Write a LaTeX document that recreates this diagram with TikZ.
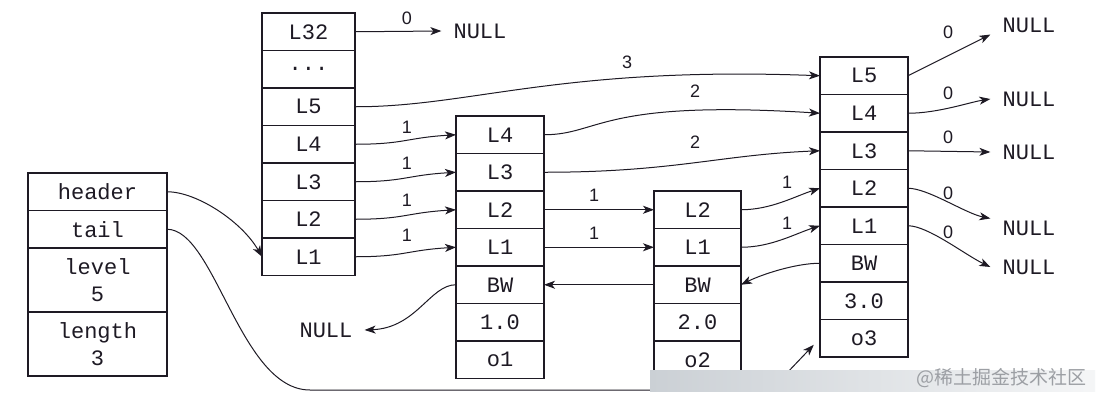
\documentclass[tikz,border=0pt]{standalone}
\usepackage{fontspec}
\setmonofont{Liberation Mono}
\newfontfamily\numfont{Liberation Sans}
\newfontfamily\cjkfont{Noto Sans CJK SC}
\usetikzlibrary{arrows.meta,positioning}
\definecolor{Ink}{HTML}{1E1A24}
\definecolor{Band}{HTML}{CBD0D5}
\definecolor{Mark}{HTML}{9C9FA4}

\begin{document}
\begin{tikzpicture}[x=1pt,y=-1pt,
slot/.style={draw=Ink,line width=1.3pt,outer sep=0pt,inner sep=0pt,minimum height=37.5pt,align=center,text=Ink,font=\ttfamily\fontsize{22}{27}\selectfont},
lcol/.style={slot,minimum width=139pt},
hcol/.style={slot,minimum width=93pt},
acol/.style={slot,minimum width=88pt},
bcol/.style={slot,minimum width=87pt},
ccol/.style={slot,minimum width=88pt},
nulltxt/.style={inner xsep=12pt,inner ysep=2pt,text=Ink,font=\ttfamily\fontsize{22}{27}\selectfont},
lab/.style={inner sep=0pt,text=Ink,font=\numfont\fontsize{18}{20}\selectfont},
arr/.style={-{Stealth[length=11pt,width=8pt,inset=3pt]},line width=1pt,draw=Ink}]
\fill[white] (0,0) rectangle (1104,400);
\useasboundingbox (0,0) rectangle (1104,400);
% list struct
\node[lcol,anchor=north west] (hdr) at (28,173) {header};
\node[lcol,below=0pt of hdr] (tail) {tail};
\node[lcol,minimum height=64pt,below=0pt of tail] (lvl) {level\\5};
\node[lcol,minimum height=64pt,below=0pt of lvl] (len) {length\\3};
% header node
\node[hcol,anchor=north west] (h32) at (262,13) {L32};
\node[hcol,below=0pt of h32] (hdots) {...};
\node[hcol,below=0pt of hdots] (h5) {L5};
\node[hcol,below=0pt of h5] (h4) {L4};
\node[hcol,below=0pt of h4] (h3) {L3};
\node[hcol,below=0pt of h3] (h2) {L2};
\node[hcol,below=0pt of h2] (h1) {L1};
% node o1
\node[acol,anchor=north west] (a4) at (456,116) {L4};
\node[acol,below=0pt of a4] (a3) {L3};
\node[acol,below=0pt of a3] (a2) {L2};
\node[acol,below=0pt of a2] (a1) {L1};
\node[acol,below=0pt of a1] (abw) {BW};
\node[acol,below=0pt of abw] (ascore) {1.0};
\node[acol,below=0pt of ascore] (aobj) {o1};
% node o2
\node[bcol,anchor=north west] (b2) at (654,191) {L2};
\node[bcol,below=0pt of b2] (b1) {L1};
\node[bcol,below=0pt of b1] (bbw) {BW};
\node[bcol,below=0pt of bbw] (bscore) {2.0};
\node[bcol,below=0pt of bscore] (bobj) {o2};
% node o3
\node[ccol,anchor=north west] (c5) at (820,57) {L5};
\node[ccol,below=0pt of c5] (c4) {L4};
\node[ccol,below=0pt of c4] (c3) {L3};
\node[ccol,below=0pt of c3] (c2) {L2};
\node[ccol,below=0pt of c2] (c1) {L1};
\node[ccol,below=0pt of c1] (cbw) {BW};
\node[ccol,below=0pt of cbw] (cscore) {3.0};
\node[ccol,below=0pt of cscore] (cobj) {o3};
% NULL ends
\node[nulltxt] (n32) at (480,31) {NULL};
\node[nulltxt] (n5) at (1029,25) {NULL};
\node[nulltxt] (n4) at (1029,99) {NULL};
\node[nulltxt] (n3) at (1029,152) {NULL};
\node[nulltxt] (n2) at (1029,228) {NULL};
\node[nulltxt] (n1) at (1029,267) {NULL};
\node[nulltxt] (nbw) at (326,330) {NULL};
% spans
\node[lab] (w32) at (407,18) {0};
\node[lab] (w5) at (627,62) {3};
\node[lab] (w4) at (407,127) {1};\node[lab] (w3) at (407,163) {1};
\node[lab] (w2) at (407,200) {1};\node[lab] (w1) at (407,235) {1};
\node[lab] (wa4) at (695,91) {2};\node[lab] (wa3) at (695,142) {2};
\node[lab] (wa2) at (594,195) {1};\node[lab] (wa1) at (594,233) {1};
\node[lab] (wb2) at (787,182) {1};\node[lab] (wb1) at (787,223) {1};
\node[lab] (wc5) at (948,32) {0};\node[lab] (wc4) at (948,93) {0};
\node[lab] (wc3) at (948,137) {0};\node[lab] (wc2) at (948,193) {0};
\node[lab] (wc1) at (948,232) {0};
% links
\draw[arr] (hdr.east) .. controls +(30,0) and +(-20,-35) .. (h1.west);
\draw[arr,shorten >=9pt] (tail.east) .. controls +(48,0) and +(-70,0) .. (310,390) -- (745,390) .. controls (765,390) and (775,385) .. (785,375) -- (cobj.west);
\draw[arr] (h32.east) -- (n32.west);
\draw[arr] (h5.east) .. controls (470,107) and (560,66) .. (c5.west);
\draw[arr] (h4.east) .. controls +(50,0) and +(-50,3) .. (a4.west);
\draw[arr] (h3.east) .. controls +(50,0) and +(-50,3) .. (a3.west);
\draw[arr] (h2.east) .. controls +(50,0) and +(-50,3) .. (a2.west);
\draw[arr] (h1.east) .. controls +(50,0) and +(-50,3) .. (a1.west);
\draw[arr] (a4.east) .. controls +(56,0) and +(-220,-14) .. (c4.west);
\draw[arr] (a3.east) .. controls +(130,0) and +(-100,4) .. (c3.west);
\draw[arr] (a2.east) -- (b2.west);
\draw[arr] (a1.east) -- (b1.west);
\draw[arr] (b2.east) .. controls +(30,0) and +(-25,8) .. (c2.west);
\draw[arr] (b1.east) .. controls +(30,0) and +(-25,8) .. (c1.west);
\draw[arr] (cbw.west) .. controls +(-25,0) and +(20,-10) .. (bbw.east);
\draw[arr] (bbw.west) -- (abw.east);
\draw[arr] (abw.west) .. controls +(-26,0) and +(52,-2) .. (nbw.east);
\draw[arr] (c5.east) -- (n5.south west);
\draw[arr] (c4.east) .. controls +(30,0) and +(-20,3) .. (n4.west);
\draw[arr] (c3.east) -- (n3.west);
\draw[arr] (c2.east) .. controls +(20,0) and +(-25,-5) .. (n2.north west);
\draw[arr] (c1.east) .. controls +(20,0) and +(-25,-12) .. (n1.west);
% watermark
\shade[left color=Band,right color=Band!20] (650,370) rectangle (1095,391);
\node[text=Mark,font=\cjkfont\fontsize{19}{20}\selectfont,anchor=east] (wm) at (1090,378) {@稀土掘金技术社区};
\end{tikzpicture}
\end{document}
